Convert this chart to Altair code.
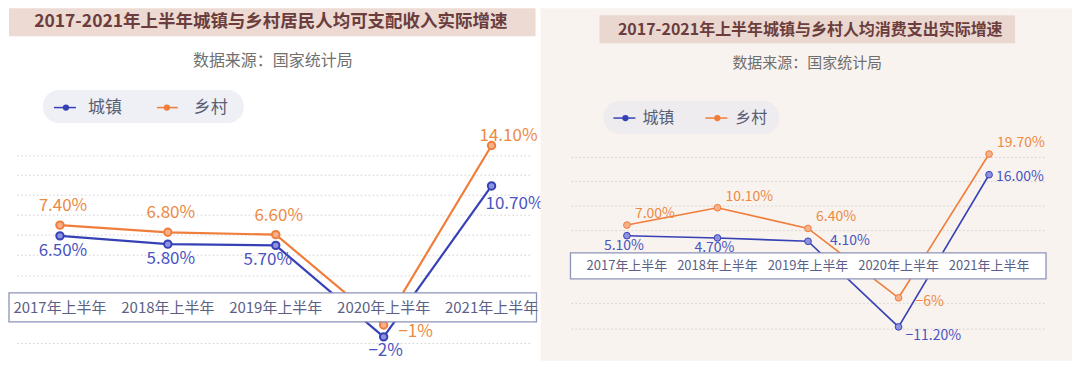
import altair as alt
import pandas as pd

PERIODS = ["2017年上半年", "2018年上半年", "2019年上半年", "2020年上半年", "2021年上半年"]
SERIES = ["城镇", "乡村"]

INCOME_URBAN = [6.5, 5.8, 5.7, -2.0, 10.7]
INCOME_RURAL = [7.4, 6.8, 6.6, -1.0, 14.1]
INCOME_URBAN_LABELS = ["6.50%", "5.80%", "5.70%", "−2%", "10.70%"]
INCOME_RURAL_LABELS = ["7.40%", "6.80%", "6.60%", "−1%", "14.10%"]

SPEND_URBAN = [5.1, 4.7, 4.1, -11.2, 16.0]
SPEND_RURAL = [7.0, 10.1, 6.4, -6.0, 19.7]
SPEND_URBAN_LABELS = ["5.10%", "4.70%", "4.10%", "−11.20%", "16.00%"]
SPEND_RURAL_LABELS = ["7.00%", "10.10%", "6.40%", "−6%", "19.70%"]

TITLE_LEFT = "2017-2021年上半年城镇与乡村居民人均可支配收入实际增速"
TITLE_RIGHT = "2017-2021年上半年城镇与乡村人均消费支出实际增速"
SOURCE = "数据来源：国家统计局"

GRID_LEFT = [-2.55, 3.13, 4.87, 6.56, 8.24, 9.92, 11.6, 13.23]
GRID_RIGHT = [-11.6, -7.0, 6.0, 10.4, 14.8, 19.1]

FONT = "Noto Sans CJK SC"
BLUE = "#3741b6"
ORANGE = "#f07d3a"
BLUE_TXT = "#4a53c2"
ORANGE_TXT = "#ec8a45"
W, H = 532, 353


def frame(urban, rural, ul, rl):
    rows = []
    for s, vals, labs in ((SERIES[0], urban, ul), (SERIES[1], rural, rl)):
        for p, v, l in zip(PERIODS, vals, labs):
            rows.append({"period": p, "series": s, "value": v, "label": l})
    return pd.DataFrame(rows)


ONE = pd.DataFrame({"k": [0]})


def rect(x0, x1, y0, y1, **kw):
    return alt.Chart(ONE).mark_rect(**kw).encode(
        x=alt.value(x0), x2=alt.value(x1), y=alt.value(y0), y2=alt.value(y1))


def text(t, x, y, **kw):
    return alt.Chart(ONE).mark_text(text=t, font=FONT, **kw).encode(
        x=alt.value(x), y=alt.value(y))


def panel(df, grid, c):
    xsc = alt.Scale(type="point", domain=PERIODS, range=c["xrange"], padding=0)
    ysc = alt.Scale(domain=c["ydomain"], range=c["yrange"], zero=False, nice=False)
    X = alt.X("period:N", scale=xsc, axis=None, sort=PERIODS)
    Y = alt.Y("value:Q", scale=ysc, axis=None)
    L = []
    L.append(rect(0, W, 0, H, color=c["bg"]))
    L.append(rect(*c["tbar"], color=c["tbar_color"]))
    L.append(text(c["title"], c["tx"], c["ty"], fontSize=c["tsize"], fontWeight="bold",
                  color="#6b3d3d", align="center", baseline="middle"))
    L.append(text(SOURCE, c["sx"], c["sy"], fontSize=c["ssize"], color="#6f6f6f",
                  align="center", baseline="middle"))
    # legend
    L.append(rect(*c["pill"], color=c["pill_color"], cornerRadius=16))
    ly = c["legy"]
    for (lx0, lx1, dotx, tx), s, col in zip(c["leg"], SERIES, [BLUE, ORANGE]):
        L.append(alt.Chart(ONE).mark_rule(color=col, strokeWidth=1.5).encode(
            x=alt.value(lx0), x2=alt.value(lx1), y=alt.value(ly)))
        L.append(alt.Chart(ONE).mark_circle(size=40, color=col, opacity=1).encode(
            x=alt.value(dotx), y=alt.value(ly)))
        L.append(text(s, tx, ly, fontSize=c["legsize"], color="#5a5e73",
                      align="left", baseline="middle"))
    # grid
    L.append(alt.Chart(pd.DataFrame({"g": grid})).mark_rule(
        color="#cfcfcf", strokeDash=[1.5, 2.5], strokeWidth=1).encode(
        x=alt.value(c["gx"][0]), x2=alt.value(c["gx"][1]),
        y=alt.Y("g:Q", scale=ysc, axis=None)))
    col_scale = alt.Scale(domain=SERIES, range=[BLUE, ORANGE])
    L.append(alt.Chart(df).mark_line(strokeWidth=c["lw"]).encode(
        x=X, y=Y, color=alt.Color("series:N", scale=col_scale, legend=None)))
    L.append(alt.Chart(df).mark_circle(size=c["psize"], strokeWidth=c["pstroke"], opacity=1).encode(
        x=X, y=Y,
        fill=alt.Fill("series:N", scale=alt.Scale(domain=SERIES, range=c["pfill"]), legend=None),
        stroke=alt.Stroke("series:N", scale=col_scale, legend=None)))
    # axis box
    L.append(rect(*c["box"], fill="white", stroke="#8c94b8", strokeWidth=1.3))
    L.append(alt.Chart(pd.DataFrame({"period": PERIODS})).mark_text(
        font=FONT, fontSize=c["axsize"], color="#5b6084", baseline="middle").encode(
        x=X, y=alt.value(c["axy"]), text="period:N"))
    # data labels
    for s, periods, dx, dy, align in c["labels"]:
        L.append(alt.Chart(df).transform_filter(alt.datum.series == s).transform_filter(
            alt.FieldOneOfPredicate(field="period", oneOf=periods)).mark_text(
            font=FONT, fontSize=c["lsize"], dx=dx, dy=dy, align=align, baseline="middle",
            color=BLUE_TXT if s == SERIES[0] else ORANGE_TXT).encode(
            x=X, y=Y, text="label:N"))
    return alt.layer(*L).properties(width=W, height=H)


P = PERIODS
left_cfg = dict(
    xrange=[51, 483], ydomain=[-2, 14.1], yrange=[329, 137.5],
    bg="white", tbar=(0, 527, 0, 28), tbar_color="#ecdad3",
    title=TITLE_LEFT, tx=262, ty=14, tsize=17.5,
    sx=264, sy=53, ssize=16,
    pill=(34, 235, 82, 115), pill_color="#eef0f5", legy=99.5, legsize=17,
    leg=[(45, 67, 57, 79), (148, 169, 158, 185)],
    gx=(8, 523), lw=2.2, psize=55, pstroke=2, pfill=["#8d93df", "#f6b08a"],
    box=(0, 528, 285, 314), axsize=15, axy=300, lsize=17,
    labels=[
        (SERIES[1], P[0:3], 3, -19, "center"),
        (SERIES[1], [P[3]], 32, 7, "center"),
        (SERIES[1], [P[4]], 17, -10, "center"),
        (SERIES[0], P[0:2], 3, 15, "center"),
        (SERIES[0], [P[2]], -8, 15, "center"),
        (SERIES[0], [P[3]], 2, 14, "center"),
        (SERIES[0], [P[4]], 23, 18, "center"),
    ],
)

right_cfg = dict(
    xrange=[86.5, 449], ydomain=[-11.2, 19.7], yrange=[319, 146],
    bg="#f9f3ef", tbar=(59, 475, 7, 35), tbar_color="#ead8d0",
    title=TITLE_RIGHT, tx=270, ty=22, tsize=16,
    sx=267, sy=55, ssize=15,
    pill=(63, 239, 93, 126), pill_color="#eeecee", legy=110, legsize=16,
    leg=[(73, 95, 85, 102), (165, 187, 177, 195)],
    gx=(31, 506), lw=1.6, psize=45, pstroke=1, pfill=[BLUE, ORANGE],
    box=(30, 506, 245, 271), axsize=13, axy=258, lsize=14,
    labels=[
        (SERIES[1], [P[0], P[1], P[2], P[4]], 8, -11, "left"),
        (SERIES[1], [P[3]], 17, 4, "left"),
        (SERIES[0], P[0:2], -3, 10, "center"),
        (SERIES[0], [P[2]], 22, 0, "left"),
        (SERIES[0], [P[3]], 7, 9, "left"),
        (SERIES[0], [P[4]], 7, 2, "left"),
    ],
)

left = panel(frame(INCOME_URBAN, INCOME_RURAL, INCOME_URBAN_LABELS, INCOME_RURAL_LABELS),
             GRID_LEFT, left_cfg)
right = panel(frame(SPEND_URBAN, SPEND_RURAL, SPEND_URBAN_LABELS, SPEND_RURAL_LABELS),
              GRID_RIGHT, right_cfg)

chart = alt.hconcat(left, right, spacing=0, bounds="flush").properties(
    padding=0, background="white"
).configure_view(strokeWidth=0)

chart.save("out.html", embed_options={"renderer": "svg", "actions": False})
